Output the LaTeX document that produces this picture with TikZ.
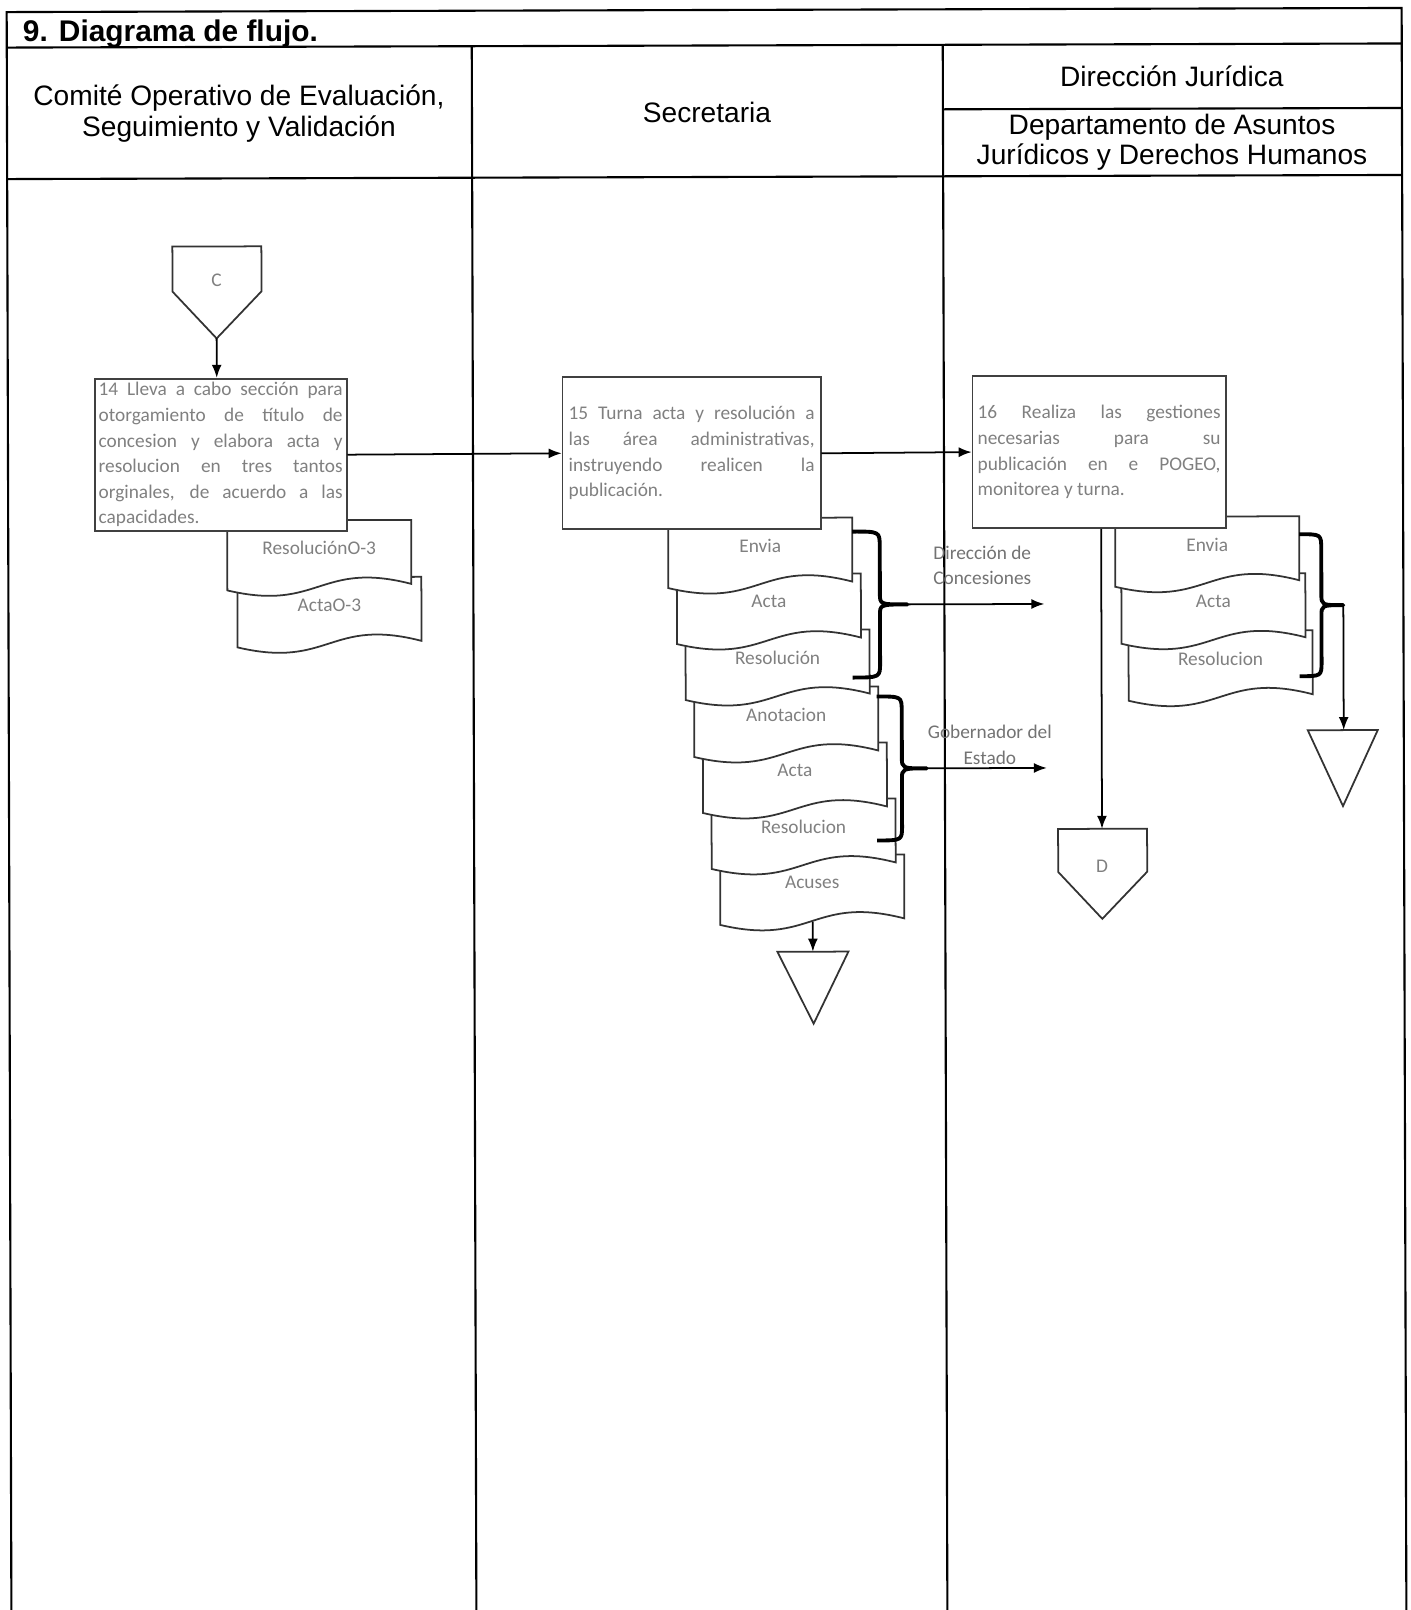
\documentclass[tikz,border=0pt]{standalone}
\usepackage{fontspec}
\setmainfont{Liberation Sans}
\newfontfamily\carlito{Carlito}
\usetikzlibrary{arrows.meta,positioning}
\tikzset{
  frame/.style={line width=1.2pt},
  hdr/.style={font=\fontsize{16}{17.5}\selectfont,align=center},
  proc/.style={draw=black!75,line width=1pt,fill=white,anchor=north west,align=justify,
    font=\carlito\fontsize{11}{14.6}\selectfont,text=black!50,inner ysep=0.4mm},
  docline/.style={draw=black!80,line width=1pt,fill=white},
  doctext/.style={font=\carlito\fontsize{11}{13}\selectfont,text=black!50},
  lbl/.style={font=\carlito\fontsize{11}{14.6}\selectfont,text=black!55,align=center},
  brc/.style={line width=2.2pt,line join=round},
  conn/.style={line width=1pt,-{Latex[length=2.6mm,width=2mm]}}
}
\newcommand{\docu}[4]{%
  \begin{scope}[shift={(#2,#3)}]
    \draw[docline] (0,0) -- (184,0) -- (184,64) .. controls (92,40) and (92,92) .. (0,70) -- cycle;
    \node[doctext] (#1) at (92,28) {#4};
  \end{scope}}
\newcommand{\llave}[4]{%
  \pgfmathsetmacro\lxm{(#1+#4)/2}\pgfmathsetmacro\lym{(#2+#3)/2}%
  \draw[brc] (#1,#2) .. controls (\lxm,#2) .. (\lxm,{#2+15}) -- (\lxm,{\lym-11})
    .. controls (\lxm,\lym) .. (#4,\lym) .. controls (\lxm,\lym) .. (\lxm,{\lym+11})
    -- (\lxm,{#3-15}) .. controls (\lxm,#3) .. (#1,#3);}

\begin{document}
\begin{tikzpicture}[x=0.2mm,y=-0.2mm]
\useasboundingbox (0,0) rectangle (1410,1610);
\clip (0,0) rectangle (1410,1610);
\fill[white] (0,0) rectangle (1410,1610);
\begin{scope}[rotate around={0.17:(705,805)}]
% tabla
\draw[frame] (9,1625) -- (9,10) -- (1404,10) -- (1404,1625);
\draw[frame] (9,45.5) -- (1404,45.5);
\draw[frame] (9,177) -- (1404,177);
\draw[frame] (474,45.5) -- (474,1625);
\draw[frame] (945,45.5) -- (945,1625);
\draw[frame] (945,110) -- (1404,110);
\node[anchor=base west,font=\bfseries\fontsize{17}{20}\selectfont] (titulo) at (19,39) {9. Diagrama de flujo.};
\node[hdr] (comite) at (241,112) {Comité Operativo de Evaluación,\\Seguimiento y Validación};
\node[hdr] (secre) at (709,112) {Secretaria};
\node[hdr] (dirj) at (1174,78) {Dirección Jurídica};
\node[hdr] (depto) at (1174,143.5) {Departamento de Asuntos\\Jurídicos y Derechos Humanos};

% comite
\draw[docline] (174,245) -- (263,245) -- (263,290) -- (218,337) -- (174,290) -- cycle;
\node[doctext] (C) at (218,279) {C};
\coordinate (Cpt) at (218,337);
\docu{actaO}{238}{576}{ActaO-3}
\docu{resolO}{228}{519}{ResoluciónO-3}
\node[proc,minimum width=50.4mm,minimum height=30.4mm,text width=48.8mm,inner xsep=0.8mm] (b14) at (95,376)
  {14 Lleva a cabo sección para\linebreak otorgamiento de título de\linebreak concesion y elabora acta y\linebreak resolucion en tres tantos\linebreak orginales, de acuerdo a las\linebreak capacidades.};
\draw[conn] (Cpt) -- (Cpt |- b14.north);

% secretaria
\docu{acuses}{720}{855}{Acuses}
\docu{resolB}{711.5}{799}{Resolucion}
\docu{actaB}{703}{743}{Acta}
\docu{anot}{694.5}{687}{Anotacion}
\docu{resolA}{686}{630}{Resolución}
\docu{actaA}{677.5}{574}{Acta}
\docu{enviaA}{669}{518}{Envia}
\node[proc,minimum width=51.6mm,minimum height=30.4mm,text width=49.2mm,inner xsep=1.2mm] (b15) at (563,376)
  {15 Turna acta y resolución a\linebreak las área administrativas,\linebreak instruyendo realicen la\linebreak publicación.};
\llave{853}{532}{678}{908}
\coordinate (br1) at (908,605);
\coordinate (dc) at (1045,605);
\draw[conn] (br1) -- (dc);
\node[lbl] (dclbl) at (983,566) {Dirección de\\Concesiones};
\llave{877}{697}{841}{927}
\coordinate (br2) at (927,769);
\coordinate (ge) at (1047,769);
\draw[conn] (br2) -- (ge);
\node[lbl] (gelbl) at (990,746) {Gobernador del\\Estado};
\draw[docline] (777,952) -- (848,952) -- (813,1024) -- cycle;
\coordinate (t1) at (812.5,952);
\coordinate (acb) at (812.5,922);
\draw[conn] (acb) -- (t1);

% juridico
\docu{resolC}{1129}{632}{Resolucion}
\docu{actaC}{1122}{575}{Acta}
\docu{enviaC}{1116}{518}{Envia}
\node[proc,minimum width=50.6mm,minimum height=30.4mm,text width=48.6mm,inner xsep=1mm] (b16) at (973,376)
  {16 Realiza las gestiones\linebreak necesarias para su\linebreak publicación en e POGEO,\linebreak monitorea y turna.};
\draw[conn] (b14.east) -- (b15.west);
\draw[conn] (b15.east) -- (b16.west);
\llave{1300}{536}{678}{1344}
\coordinate (br3) at (1344,607);
\draw[docline] (1308,732) -- (1378,732) -- (1343,808) -- cycle;
\coordinate (t2) at (1344,732);
\draw[conn] (br3) -- (t2);
\draw[docline] (1058,830) -- (1147,830) -- (1147,873) -- (1102,920) -- (1058,873) -- cycle;
\node[doctext] (D) at (1102,867) {D};
\coordinate (Dtop) at (1102,830);
\draw[conn] (b16.south -| Dtop) -- (Dtop);
\end{scope}
\end{tikzpicture}
\end{document}
